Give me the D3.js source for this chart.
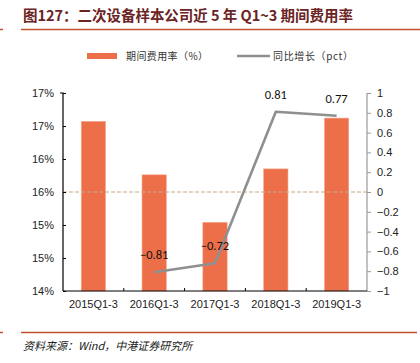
<!DOCTYPE html>
<html><head><meta charset="utf-8">
<script src="https://cdn.jsdelivr.net/npm/d3@7"></script>
<style>
body{margin:0;background:#fff;}
svg{display:block;}
</style></head>
<body>
<svg id="c" width="420" height="363"></svg>
<script>
const categories = ["2015Q1-3","2016Q1-3","2017Q1-3","2018Q1-3","2019Q1-3"];
const expenseRate = [16.57, 15.76, 15.04, 15.85, 16.62];
const yoyCats = ["2016Q1-3","2017Q1-3","2018Q1-3","2019Q1-3"];
const yoyChange = [-0.81, -0.72, 0.81, 0.77];
const leftTicks = [14.0,14.5,15.0,15.5,16.0,16.5,17.0];
const rightTicks = [-1,-0.8,-0.6,-0.4,-0.2,0,0.2,0.4,0.6,0.8,1];
const title = "图127：二次设备样本公司近 5 年 Q1~3 期间费用率";
const source = "资料来源：Wind，中港证券研究所";
const legendBar = "期间费用率（%）";
const legendLine = "同比增长（pct）";

const svg = d3.select("#c");
const font = "Arial, 'Liberation Sans', 'Noto Sans CJK SC', sans-serif";
const L = 63, R = 367, T = 93, B = 291;

// title
svg.append("text").attr("x",23).attr("y",21).attr("fill","#6b2324")
  .attr("font-family","'Noto Sans CJK SC', sans-serif").attr("font-weight","bold")
  .attr("font-size",14.5).attr("textLength",330).attr("lengthAdjust","spacing").text(title);
svg.append("line").attr("x1",0).attr("x2",3).attr("y1",29.5).attr("y2",29.5).attr("stroke","#c0502e").attr("stroke-width",1.5);
svg.append("line").attr("x1",21).attr("x2",420).attr("y1",29.5).attr("y2",29.5).attr("stroke","#c0502e").attr("stroke-width",1.5);

// footer
svg.append("line").attr("x1",0).attr("x2",3).attr("y1",332.5).attr("y2",332.5).attr("stroke","#c0502e").attr("stroke-width",1.5);
svg.append("line").attr("x1",21).attr("x2",417).attr("y1",332.5).attr("y2",332.5).attr("stroke","#c0502e").attr("stroke-width",1.5);
svg.append("text").attr("x",23).attr("y",350).attr("fill","#222")
  .attr("font-family","'Noto Sans CJK SC', sans-serif").attr("font-style","italic")
  .attr("font-size",11).text(source);

// scales
const x = d3.scaleBand().domain(categories).range([L,R]).paddingInner(0).paddingOuter(0);
const yL = d3.scaleLinear().domain([14,17]).range([B,T]);
const yR = d3.scaleLinear().domain([-1,1]).range([B,T]);

// bars
const bw = x.bandwidth()*0.4;
svg.append("g").selectAll("rect").data(categories).join("rect")
  .attr("x",d=>x(d)+x.bandwidth()/2-bw/2)
  .attr("y",(d,i)=>yL(expenseRate[i]))
  .attr("width",bw)
  .attr("height",(d,i)=>B-yL(expenseRate[i]))
  .attr("fill","#ed6f49").attr("stroke","#f5a88e").attr("stroke-width",0.6);

// zero dashed line (right axis 0)
svg.append("line").attr("x1",L).attr("x2",R).attr("y1",yR(0)).attr("y2",yR(0))
  .attr("stroke","#c4a98a").attr("stroke-width",1.2).attr("stroke-dasharray","4,2");

// left axis
const gl = svg.append("g").attr("transform",`translate(${L},0)`)
  .call(d3.axisLeft(yL).tickValues(leftTicks).tickSize(-3).tickPadding(9).tickFormat(d=>d3.format(".0f")(d===14.5?15:d===15.5?16:d===16.5?17:d)+"%"));
gl.select(".domain").attr("stroke","#000").attr("stroke-width",1.2).attr("d",`M-3,${T}H0V${B}`);
gl.selectAll(".tick line").attr("stroke","#000");
gl.selectAll("text").attr("font-family",font).attr("font-size",11).attr("fill","#222");

// right axis
const gr = svg.append("g").attr("transform",`translate(${R},0)`)
  .call(d3.axisRight(yR).tickValues(rightTicks).tickSize(4).tickPadding(6).tickFormat(d=>d3.format("")(Math.round(d*10)/10)));
gr.select(".domain").attr("stroke","#999").attr("stroke-width",1.2).attr("d",`M0,${T}V${B}`);
gr.selectAll(".tick line").attr("stroke","#999");
gr.selectAll("text").attr("font-family",font).attr("font-size",11).attr("fill","#222");

// bottom axis
const gb = svg.append("g").attr("transform",`translate(0,${B})`)
  .call(d3.axisBottom(x).tickSize(0).tickPadding(9));
gb.select(".domain").attr("stroke","#000").attr("stroke-width",1.2).attr("d",`M${L},0H${R}`);
gb.selectAll("text").attr("font-family",font).attr("font-size",11).attr("fill","#222");
svg.append("g").selectAll("line").data(categories.slice(1)).join("line")
  .attr("x1",d=>x(d)).attr("x2",d=>x(d)).attr("y1",B).attr("y2",B-3)
  .attr("stroke","#000").attr("stroke-width",1);

// line
const line = d3.line().x((d,i)=>x(yoyCats[i])+x.bandwidth()/2).y(d=>yR(d));
svg.append("path").datum(yoyChange).attr("d",line).attr("fill","none")
  .attr("stroke","#8f8f8f").attr("stroke-width",2.6).attr("stroke-linejoin","round");

// labels
svg.append("g").selectAll("text").data(yoyChange).join("text")
  .attr("x",(d,i)=>x(yoyCats[i])+x.bandwidth()/2)
  .attr("y",d=>yR(d)-13)
  .attr("text-anchor","middle").attr("font-family","Calibri, Carlito, 'Liberation Sans', sans-serif")
  .attr("font-size",12.5).attr("fill","#111")
  .text(d=>d3.format(".2f")(d));

// legend
svg.append("rect").attr("x",87).attr("y",53).attr("width",30).attr("height",6).attr("fill","#ed6f49");
svg.append("text").attr("x",126).attr("y",60).attr("font-family","'Noto Sans CJK SC', sans-serif")
  .attr("font-size",10).attr("textLength",82).attr("lengthAdjust","spacing").attr("fill","#333").text(legendBar);
svg.append("line").attr("x1",237).attr("x2",270).attr("y1",56).attr("y2",56).attr("stroke","#8f8f8f").attr("stroke-width",2.6);
svg.append("text").attr("x",273).attr("y",60).attr("font-family","'Noto Sans CJK SC', sans-serif")
  .attr("font-size",10).attr("textLength",80).attr("lengthAdjust","spacing").attr("fill","#333").text(legendLine);
</script>
</body></html>
